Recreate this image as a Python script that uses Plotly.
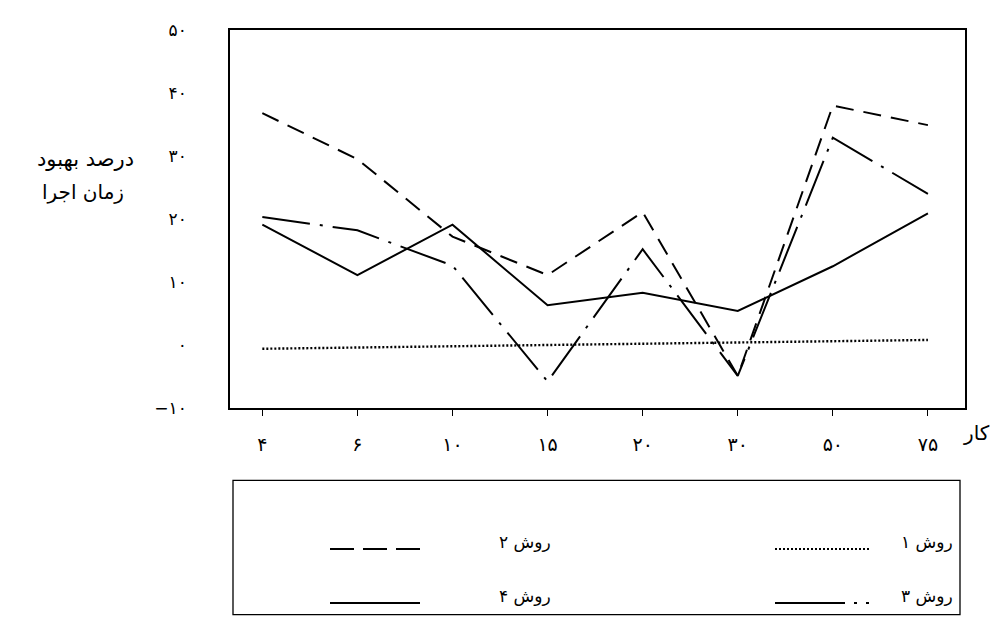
import plotly.graph_objects as go

categories = ["۴", "۶", "۱۰", "۱۵", "۲۰", "۳۰", "۵۰", "۷۵"]
method1 = [-0.6, -0.4, -0.2, 0.0, 0.2, 0.3, 0.6, 0.8]
method2 = [36.8, 29.5, 17.2, 11.1, 21.1, -4.9, 38.0, 34.9]
method3 = [20.3, 18.2, 12.6, -5.8, 15.2, -4.9, 32.9, 24.0]
method4 = [19.1, 11.1, 19.1, 6.3, 8.3, 5.4, 12.5, 20.9]
names = ["روش ۱", "روش ۲", "روش ۳", "روش ۴"]
ytick_vals = [-10, 0, 10, 20, 30, 40, 50]
ytick_text = ["−۱۰", "۰", "۱۰", "۲۰", "۳۰", "۴۰", "۵۰"]
ytitle_lines = ["درصد بهبود", "زمان اجرا"]
xtitle = "کار"

FONT = "DejaVu Sans"
OFF = 8  # page body margin
W, H = 1001 - 2 * OFF, 624 - 2 * OFF
# plot area in page pixels: x 230..965, y 22..408
L, T = 230 - OFF, 22 - OFF
R = W - (965 - OFF)
B = H - (408 - OFF)
PW, PH = W - L - R, H - T - B


def px(x):
    return (x - OFF - L) / PW


def py(y):
    return (H - B - (y - OFF)) / PH


dashes = {
    "روش ۱": "2px,2px",
    "روش ۲": "18px,10px",
    "روش ۳": "48px,10px,3px,10px",
    "روش ۴": "solid",
}
legend_dashes = {
    "روش ۱": "2px,2px",
    "روش ۲": "24px,9px",
    "روش ۳": "70px,9px,3px,9px,3px,100px",
    "روش ۴": "solid",
}
series = {"روش ۱": method1, "روش ۲": method2, "روش ۳": method3, "روش ۴": method4}

fig = go.Figure()
for n in names:
    fig.add_trace(go.Scatter(
        x=categories, y=series[n], mode="lines", name=n,
        line=dict(color="black", width=2 if n != "روش ۱" else 2.4, dash=dashes[n]),
        showlegend=False,
    ))

fig.update_layout(
    width=W, height=H,
    margin=dict(l=L, r=R, t=T, b=B, pad=0),
    paper_bgcolor="white", plot_bgcolor="white",
    font=dict(family=FONT, size=14, color="black"),
    xaxis=dict(
        type="category", range=[-0.34, 7.39],
        showgrid=False, zeroline=False,
        showline=True, linecolor="black", linewidth=1.5, mirror=True,
        ticks="outside", ticklen=6, tickcolor="black",
        ticklabelstandoff=12, tickfont=dict(size=19),
    ),
    yaxis=dict(
        range=[-10, 50], tickvals=ytick_vals, ticktext=ytick_text,
        showgrid=False, zeroline=False,
        showline=True, linecolor="black", linewidth=1.5, mirror=True,
        ticks="", ticklabelstandoff=38, tickfont=dict(size=17),
    ),
)

annotations = []
annotations.append(dict(text=ytitle_lines[0], xref="paper", yref="paper",
                        x=px(136), y=py(154), xanchor="right", yanchor="middle",
                        showarrow=False, font=dict(size=21)))
annotations.append(dict(text=ytitle_lines[1], xref="paper", yref="paper",
                        x=px(126), y=py(187), xanchor="right", yanchor="middle",
                        showarrow=False, font=dict(size=20)))
annotations.append(dict(text=xtitle, xref="paper", yref="paper",
                        x=px(992), y=py(434), xanchor="right", yanchor="middle",
                        showarrow=False, font=dict(size=20)))

shapes = []
shapes.append(dict(type="rect", xref="paper", yref="paper",
                   x0=px(233), x1=px(960), y0=py(482), y1=py(619),
                   line=dict(color="black", width=1.3), fillcolor="white"))
legend_layout = [
    ("روش ۲", 330, 420, 552, 553),
    ("روش ۱", 775, 870, 552, 955),
    ("روش ۴", 330, 420, 607, 553),
    ("روش ۳", 775, 870, 607, 955),
]
for n, x0, x1, yy, tx in legend_layout:
    shapes.append(dict(type="line", xref="paper", yref="paper",
                       x0=px(x0), x1=px(x1), y0=py(yy), y1=py(yy),
                       line=dict(color="black", width=2, dash=legend_dashes[n])))
    annotations.append(dict(text=n, xref="paper", yref="paper",
                            x=px(tx), y=py(yy - 7), xanchor="right", yanchor="middle",
                            showarrow=False, font=dict(size=17)))

fig.update_layout(annotations=annotations, shapes=shapes)
fig.write_html("out.html")
